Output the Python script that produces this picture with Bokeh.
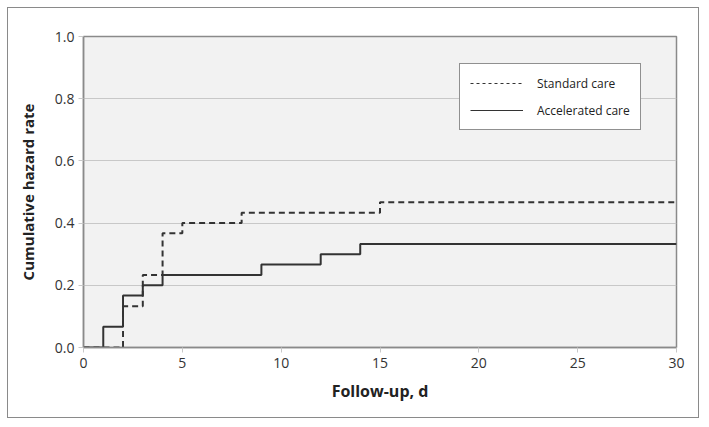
from bokeh.plotting import figure
from bokeh.models import (Legend, LegendItem, ColumnDataSource, Range1d, FixedTicker,
                          CustomJSTickFormatter)
from bokeh.embed import file_html
from bokeh.resources import INLINE

# Data
acc_days = [0, 1, 2, 3, 4, 9, 12, 14, 30]
acc_rate = [0.0, 0.067, 0.167, 0.2, 0.233, 0.267, 0.3, 0.333, 0.333]
std_days = [0, 2, 3, 4, 5, 8, 15, 30]
std_rate = [0.0, 0.133, 0.233, 0.367, 0.4, 0.433, 0.467, 0.467]
x_ticks = [0, 5, 10, 15, 20, 25, 30]
y_ticks = [0.0, 0.2, 0.4, 0.6, 0.8, 1.0]
series_names = ["Standard care", "Accelerated care"]

FONT = "Open Sans"

p = figure(width=692, height=411, output_backend="svg", toolbar_location=None,
           x_range=Range1d(0, 30), y_range=Range1d(0, 1),
           min_border_left=75, min_border_right=24, min_border_top=28, min_border_bottom=72)
p.styles = {"border": "1px solid #8a8a8a", "margin-left": "7px", "margin-top": "7px"}
p.background_fill_color = "#f2f2f2"
p.border_fill_color = "white"
p.outline_line_color = "#8a8a8a"
p.outline_line_width = 1.5

p.xgrid.grid_line_color = None
p.ygrid.grid_line_color = "#c8c8c8"
p.ygrid.grid_line_width = 1
p.ygrid.ticker = FixedTicker(ticks=y_ticks)

p.xaxis.ticker = FixedTicker(ticks=x_ticks)
p.yaxis.ticker = FixedTicker(ticks=y_ticks)
p.yaxis.formatter = CustomJSTickFormatter(code="return tick.toFixed(1);")

for ax in (p.xaxis, p.yaxis):
    ax.axis_line_color = "#8a8a8a"
    ax.axis_line_width = 1.5
    ax.major_tick_line_color = "#c8c8c8"
    ax.major_tick_in = 0
    ax.major_tick_out = 5
    ax.minor_tick_line_color = None
    ax.major_label_text_font = FONT
    ax.major_label_text_font_size = "14px"
    ax.major_label_text_color = "#333333"
    ax.axis_label_text_font = FONT
    ax.axis_label_text_font_style = "bold"
    ax.axis_label_text_color = "#222222"

p.xaxis.axis_label = "Follow-up, d"
p.yaxis.axis_label = "Cumulative hazard rate"
p.xaxis.axis_label_text_font_size = "16px"
p.yaxis.axis_label_text_font_size = "15px"
p.xaxis.major_label_standoff = 5
p.yaxis.major_label_standoff = 4
p.xaxis.axis_label_standoff = 9
p.yaxis.axis_label_standoff = 14

src_std = ColumnDataSource(dict(x=std_days, y=std_rate))
src_acc = ColumnDataSource(dict(x=acc_days, y=acc_rate))
p.step("x", "y", source=src_std, mode="after", line_color="#333333",
       line_width=2, line_dash="6 4")
p.step("x", "y", source=src_acc, mode="after", line_color="#333333",
       line_width=2)

# thin proxies for the legend, placed outside the visible ranges
proxy = dict(x=[-10, -9], y=[-1, -1])
r_std_leg = p.line("x", "y", source=ColumnDataSource(proxy), line_color="#333333",
                   line_width=1, line_dash="3 3")
r_acc_leg = p.line("x", "y", source=ColumnDataSource(proxy), line_color="#333333",
                   line_width=1)

legend = Legend(items=[LegendItem(label=series_names[0], renderers=[r_std_leg]),
                       LegendItem(label=series_names[1], renderers=[r_acc_leg])],
                location=(376, 217))
legend.background_fill_color = "white"
legend.background_fill_alpha = 1
legend.border_line_color = "#222222"
legend.border_line_width = 1
legend.label_text_font = FONT
legend.label_text_font_size = "12px"
legend.label_text_color = "#222222"
legend.glyph_width = 53
legend.glyph_height = 18
legend.label_height = 18
legend.label_standoff = 14
legend.padding = 10
legend.spacing = 9
legend.margin = 0
p.add_layout(legend, "center")

open("out.html", "w").write(file_html(p, INLINE))
